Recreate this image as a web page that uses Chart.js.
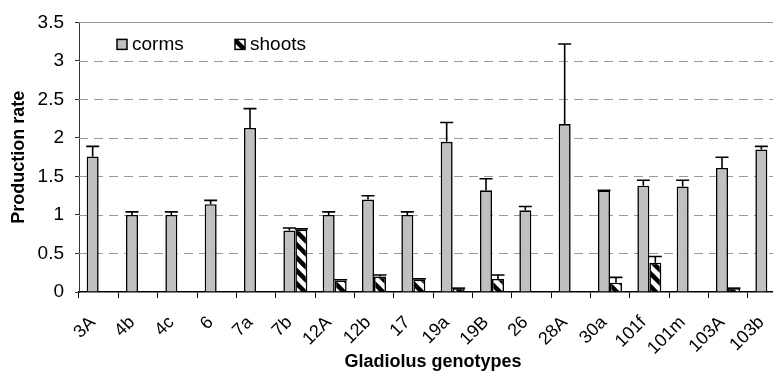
<!DOCTYPE html>
<html>
<head>
<meta charset="utf-8">
<script src="https://cdn.jsdelivr.net/npm/chart.js@4/dist/chart.umd.min.js"></script>
<style>
    html, body { margin: 0; padding: 0; background: #fff; overflow: hidden; }
    #wrap { width: 773px; height: 373px; overflow: hidden; }
</style>
</head>
<body>
<div id="wrap"><canvas id="chart" width="800" height="373"></canvas></div>
<script>
// Data
const genotypes = ['3A', '4b', '4c', '6', '7a', '7b', '12A', '12b', '17', '19a', '19B', '26', '28A', '30a', '101f', '101m', '103A', '103b'];
const corms = [1.76, 1.0, 1.0, 1.14, 2.13, 0.80, 1.0, 1.20, 1.0, 1.95, 1.32, 1.06, 2.18, 1.32, 1.38, 1.37, 1.61, 1.85];
const cormsErr = [0.13, 0.04, 0.04, 0.05, 0.25, 0.03, 0.04, 0.05, 0.04, 0.25, 0.15, 0.05, 1.04, 0.0, 0.07, 0.08, 0.14, 0.04];
const shoots = [0, 0, 0, 0, 0, 0.81, 0.15, 0.20, 0.16, 0.05, 0.17, 0, 0, 0.12, 0.38, 0, 0.05, 0];
const shootsErr = [0, 0, 0, 0, 0, 0.01, 0.01, 0.02, 0.01, 0, 0.05, 0, 0, 0.07, 0.08, 0, 0, 0];
const yTicks = [0, 0.5, 1, 1.5, 2, 2.5, 3, 3.5];

const FONT = "'Liberation Sans', Arial, sans-serif";

// diagonal hatch used for the shoots bars
function makeHatch() {
    const size = 13;
    const c = document.createElement('canvas');
    c.width = size;
    c.height = size;
    const p = c.getContext('2d');
    p.fillStyle = '#fff';
    p.fillRect(0, 0, size, size);
    p.strokeStyle = '#000';
    p.lineWidth = 4.5;
    for (let k = -1; k <= 1; k++) {
        p.beginPath();
        p.moveTo(-2, k * size - 2);
        p.lineTo(size + 2, size + k * size + 2);
        p.stroke();
    }
    return p.createPattern(c, 'repeat');
}

const ctx = document.getElementById('chart').getContext('2d');
const hatch = makeHatch();
const errors = [cormsErr, shootsErr];

// dashed horizontal grid, solid top border
const gridPlugin = {
    id: 'dashGrid',
    beforeDatasetsDraw(chart) {
        const { ctx, chartArea, scales } = chart;
        ctx.save();
        ctx.strokeStyle = '#9a9a9a';
        ctx.lineWidth = 1;
        yTicks.forEach(v => {
            if (v === 0) return;
            const y = Math.round(scales.y.getPixelForValue(v)) + 0.5;
            ctx.setLineDash(v === yTicks[yTicks.length - 1] ? [] : [9, 6]);
            ctx.beginPath();
            ctx.moveTo(chartArea.left, y);
            ctx.lineTo(chartArea.right, y);
            ctx.stroke();
        });
        ctx.restore();
    }
};

// upper error bars with caps
const errorPlugin = {
    id: 'errorBars',
    afterDatasetsDraw(chart) {
        const { ctx, scales } = chart;
        ctx.save();
        ctx.strokeStyle = '#000';
        ctx.lineWidth = 1.6;
        chart.data.datasets.forEach((ds, di) => {
            const meta = chart.getDatasetMeta(di);
            meta.data.forEach((bar, i) => {
                const v = ds.data[i];
                if (!v) return;
                const top = scales.y.getPixelForValue(v + errors[di][i]);
                const half = bar.width / 2 + 0.5;
                ctx.beginPath();
                ctx.moveTo(bar.x, bar.y);
                ctx.lineTo(bar.x, top);
                ctx.moveTo(bar.x - half, top);
                ctx.lineTo(bar.x + half, top);
                ctx.stroke();
            });
        });
        ctx.restore();
    }
};

// legend drawn inside the plot area
const legendPlugin = {
    id: 'innerLegend',
    afterDraw(chart) {
        const { ctx, chartArea } = chart;
        const offsets = [38, 156];
        ctx.save();
        ctx.font = '19px ' + FONT;
        ctx.textBaseline = 'middle';
        chart.data.datasets.forEach((ds, di) => {
            const x = chartArea.left + offsets[di];
            const y = chartArea.top + 17;
            ctx.fillStyle = ds.backgroundColor;
            ctx.fillRect(x, y, 10, 10);
            ctx.strokeStyle = '#000';
            ctx.lineWidth = 1.5;
            ctx.strokeRect(x, y, 10, 10);
            ctx.fillStyle = '#000';
            ctx.fillText(ds.label, x + 15, y + 5.5);
        });
        ctx.restore();
    }
};

new Chart(ctx, {
    type: 'bar',
    data: {
        labels: genotypes,
        datasets: [
            {
                label: 'corms',
                data: corms,
                backgroundColor: '#c0c0c0',
                borderColor: '#000',
                borderWidth: 1.6
            },
            {
                label: 'shoots',
                data: shoots,
                backgroundColor: hatch,
                borderColor: '#000',
                borderWidth: 1.6
            }
        ]
    },
    options: {
        responsive: false,
        animation: false,
        events: [],
        layout: { padding: { top: 21, right: 13, left: 0, bottom: 0 } },
        datasets: {
            bar: { categoryPercentage: 0.61, barPercentage: 1.0 }
        },
        plugins: {
            legend: { display: false },
            tooltip: { enabled: false }
        },
        scales: {
            x: {
                grid: {
                    offset: true,
                    drawOnChartArea: false,
                    tickLength: 6,
                    color: '#000'
                },
                border: { color: '#000', width: 1.6 },
                ticks: {
                    color: '#000',
                    font: { family: FONT, size: 18 },
                    minRotation: 45,
                    maxRotation: 45,
                    padding: 14,
                    labelOffset: -6,
                    autoSkip: false
                },
                title: {
                    display: true,
                    text: 'Gladiolus genotypes',
                    color: '#000',
                    font: { family: FONT, size: 18, weight: 'bold' },
                    padding: { top: 0, bottom: 0 }
                },
                afterFit(scale) { scale.height = 81; }
            },
            y: {
                min: 0,
                max: 3.5,
                afterBuildTicks(scale) { scale.ticks = yTicks.map(v => ({ value: v })); },
                grid: {
                    drawOnChartArea: false,
                    tickLength: 4,
                    color: '#333'
                },
                border: { color: '#333', width: 1 },
                ticks: {
                    color: '#000',
                    font: { family: FONT, size: 19 },
                    padding: 11,
                    callback: v => String(v)
                },
                title: {
                    display: true,
                    text: 'Production rate',
                    color: '#000',
                    font: { family: FONT, size: 18, weight: 'bold' },
                    padding: { top: 8, bottom: 0 }
                },
                afterFit(scale) { scale.width = 79; }
            }
        }
    },
    plugins: [gridPlugin, errorPlugin, legendPlugin]
});
</script>
</body>
</html>
